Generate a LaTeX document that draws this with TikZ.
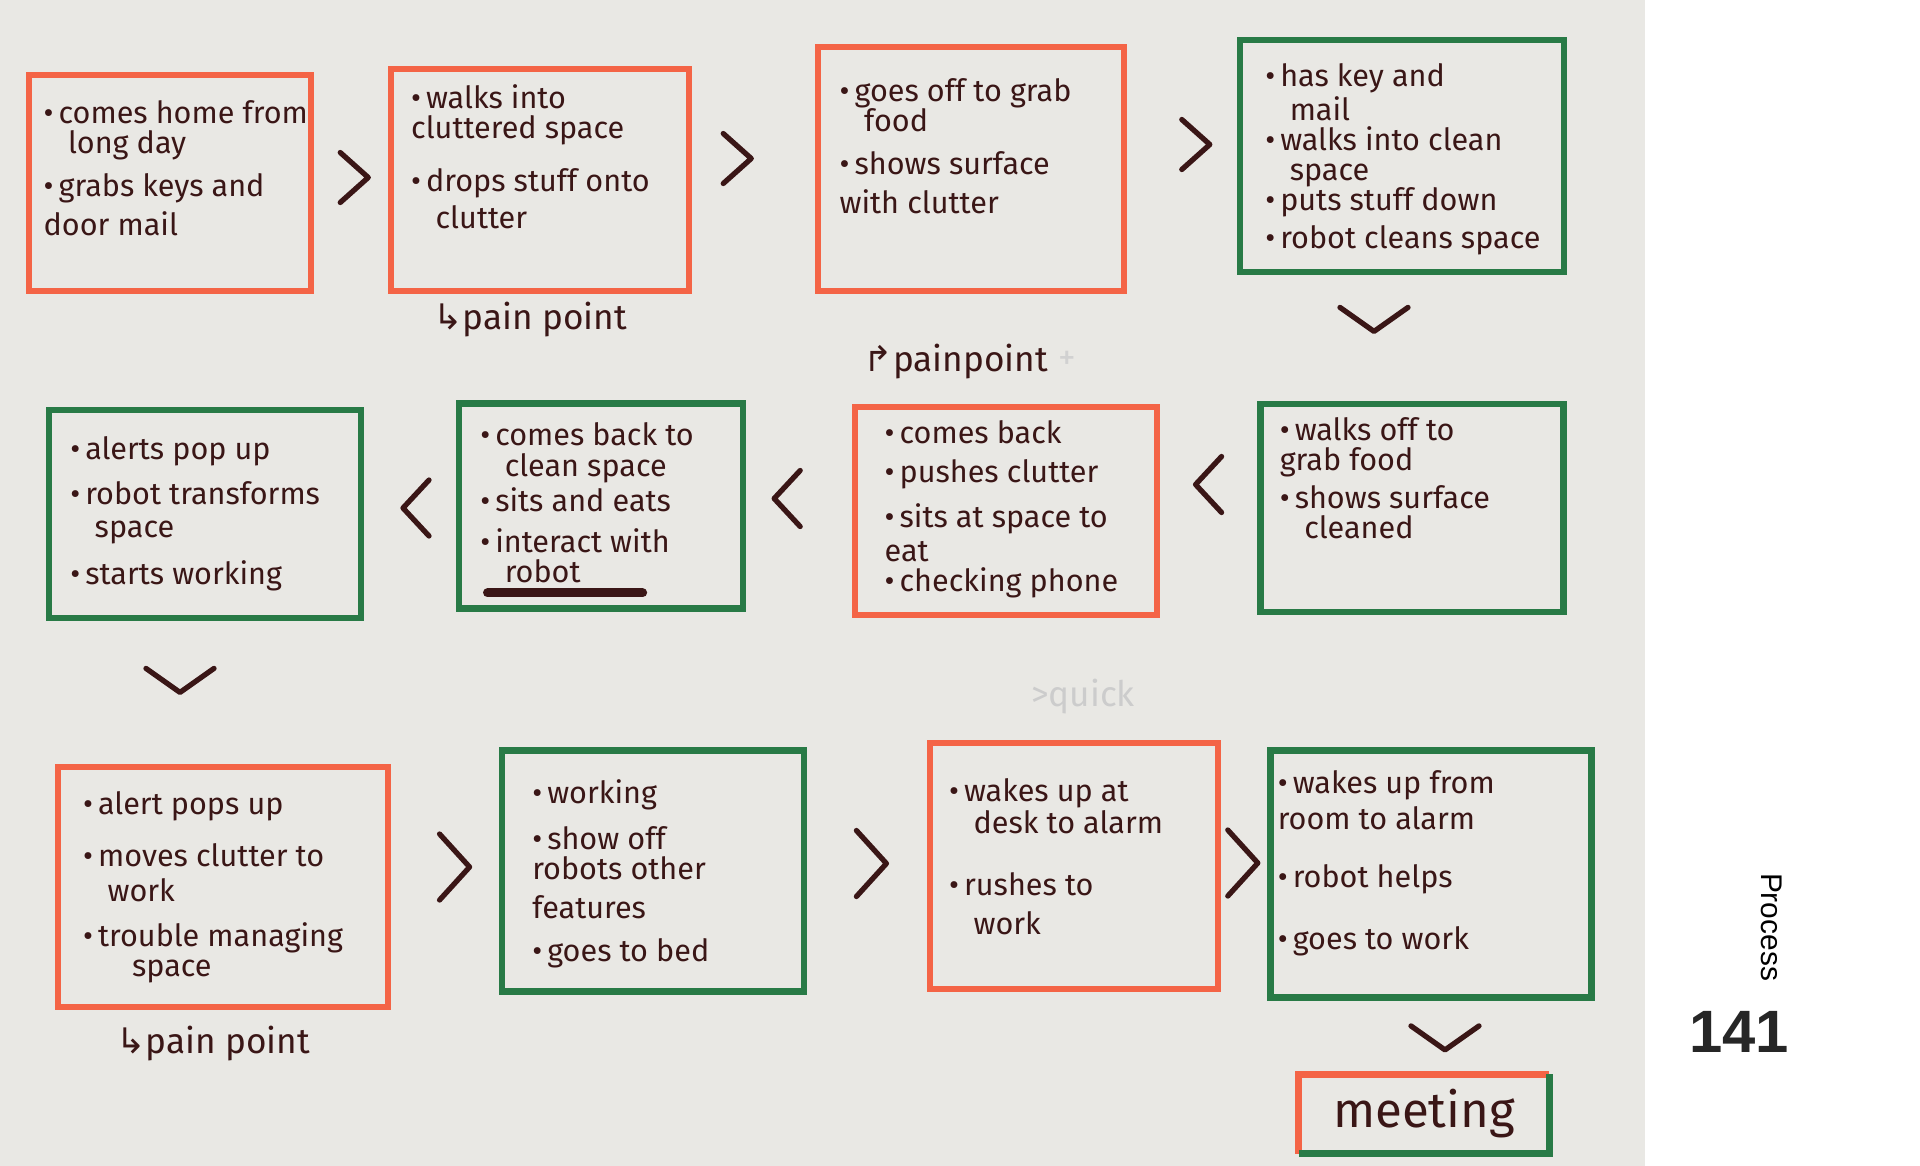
\documentclass[tikz,border=0pt]{standalone}
\usepackage{fontspec}
\setmainfont{Fira Sans}
\newfontfamily\handfont{Fira Sans}
\newfontfamily\symfont{DejaVu Sans}
\newfontfamily\pagefont{Liberation Sans}
\usetikzlibrary{calc,positioning}
\definecolor{paper}{RGB}{233,232,228}
\definecolor{ink}{RGB}{58,22,22}
\definecolor{painred}{RGB}{244,100,70}
\definecolor{calmgreen}{RGB}{40,122,70}
\newcommand{\itm}{\textbullet\,}
\newcommand{\ind}{\hspace*{0.8em}}

\begin{document}
\begin{tikzpicture}[x=0.01cm, y=-0.01cm,
  sz/.style 2 args={minimum width=#1, minimum height=#2},
  obox/.style={draw=painred, line width=1.7pt, inner sep=0pt},
  gbox/.style={draw=calmgreen, line width=1.9pt, inner sep=0pt},
  txt/.style={anchor=north west, inner sep=0pt, align=left, text=ink,
    font=\handfont\fontsize{8.7}{8.6}\selectfont},
  note/.style={inner sep=0pt, text=ink, font=\handfont\fontsize{10}{10}\selectfont},
  chev/.style={draw=ink, line width=1.5pt, line cap=round, line join=round}]
  %% ── Page: paper and white margin ──────────────────────────
  \fill[white] (0,0) rectangle (1920,1166);
  \fill[paper] (0,0) rectangle (1645,1166);

  %% ── Row 1: coming home ────────────────────────────────────
  \node[obox, sz={2.82cm}{2.15cm}] (b1) at (170,183) {};
  \node[obox, sz={2.97cm}{2.22cm}] (b2) at (540,180) {};
  \node[obox, sz={3.06cm}{2.44cm}] (b3) at (971,169) {};
  \node[gbox, sz={3.24cm}{2.32cm}] (b4) at (1402,156) {};
  \node[txt] (t1) at ([shift={(17,27)}]b1.north west)
    {\itm comes home from\\ \ind long day\\[3.6pt] \itm grabs keys and\\[1.5pt] door mail};
  \node[txt] (t2) at ([shift={(22,18)}]b2.north west)
    {\itm walks into\\ cluttered space\\[6.4pt] \itm drops stuff onto\\[2pt] \ind clutter};
  \node[txt] (t3) at ([shift={(24,34)}]b3.north west)
    {\itm goes off to grab\\ \ind food\\[3.6pt] \itm shows surface\\[2.5pt] with clutter};
  \node[txt] (t4) at ([shift={(28,26)}]b4.north west)
    {\itm has key and\\ \ind mail\\ \itm walks into clean\\ \ind space\\ \itm puts stuff down\\[2pt] \itm robot cleans space};

  %% ── Row 2: eating ─────────────────────────────────────────
  \node[gbox, sz={3.12cm}{2.08cm}] (b5) at (205,514) {};
  \node[gbox, sz={2.84cm}{2.05cm}] (b6) at (601,506) {};
  \node[obox, sz={3.02cm}{2.08cm}] (b7) at (1006,511) {};
  \node[gbox, sz={3.03cm}{2.08cm}] (b8) at (1412,508) {};
  \node[txt] (t5) at ([shift={(24,29)}]b5.north west)
    {\itm alerts pop up\\[4.3pt] \itm robot transforms\\[0.8pt] \ind space\\[3.6pt] \itm starts working};
  \node[txt] (t6) at ([shift={(24,22)}]b6.north west)
    {\itm comes back to\\ \ind clean space\\[0.4pt] \itm sits and eats\\[3pt] \itm interact with\\ \ind robot};
  \node[txt] (t7) at ([shift={(32,16)}]b7.north west)
    {\itm comes back\\[2.5pt] \itm pushes clutter\\[3pt] \itm sits at space to\\[1.2pt] eat\\ \itm checking phone};
  \node[txt] (t8) at ([shift={(22,16)}]b8.north west)
    {\itm walks off to\\ grab food\\[2.2pt] \itm shows surface\\ \ind cleaned};
  %% crossed-out word under "robot"
  \draw[ink, line width=2.6pt, line cap=round]
    ($(b6.south west)+(32,-19)$) -- +(155,0);

  %% ── Row 3: working and next day ───────────────────────────
  \node[obox, sz={3.29cm}{2.39cm}] (b9) at (223,887) {};
  \node[gbox, sz={3.02cm}{2.41cm}] (b10) at (653,871) {};
  \node[obox, sz={2.87cm}{2.46cm}] (b11) at (1074,866) {};
  \node[gbox, sz={3.21cm}{2.47cm}] (b12) at (1431,874) {};
  \node[txt] (t9) at ([shift={(27,26)}]b9.north west)
    {\itm alert pops up\\[6.4pt] \itm moves clutter to\\[1.2pt] \ind work\\[4.3pt] \itm trouble managing\\ \ind\ind space};
  \node[txt] (t10) at ([shift={(33,32)}]b10.north west)
    {\itm working\\[4.3pt] \itm show off\\ robots other\\[2.5pt] features\\[3.6pt] \itm goes to bed};
  \node[txt] (t11) at ([shift={(21,38)}]b11.north west)
    {\itm wakes up at\\[0.4pt] \ind desk to alarm\\[9.2pt] \itm rushes to\\[2.5pt] \ind work};
  \node[txt] (t12) at ([shift={(10,23)}]b12.north west)
    {\itm wakes up from\\[1.5pt] room to alarm\\[8.1pt] \itm robot helps\\[8.8pt] \itm goes to work};

  %% meeting: red top/left, green bottom/right
  \node[inner sep=0pt, sz={2.49cm}{0.78cm}, text=ink,
    font=\handfont\fontsize{14}{14}\selectfont] (m) at (1424,1114) {meeting};
  \draw[painred, line width=1.9pt] (m.south west) -- (m.north west) -- (m.north east);
  \draw[calmgreen, line width=1.9pt] (m.north east) -- (m.south east) -- (m.south west);

  %% ── Chevrons between steps ────────────────────────────────
  %% right-pointing: from/to/dx/dy/half-width/half-height
  \foreach \a/\b/\dx/\dy/\w/\h in {b1/b2/3/-4/14/25, b2/b3/-16/-16/14/25,
      b3/b4/14/-18/14/25, b9/b10/10/-12/15/33, b10/b11/4/-5/15/33,
      b11/b12/-1/-7/15/33}{
    \draw[chev] ($(\a.east)!0.5!(\b.west)+(\dx,\dy)$)
      ++(-\w,-\h) -- ++(2*\w,\h) -- ++(-2*\w,\h);
  }
  %% left-pointing (row 2 runs right to left)
  \foreach \a/\b/\dx/\dy in {b8/b7/0/-25, b7/b6/-12/-10, b6/b5/6/-2}{
    \draw[chev] ($(\a.west)!0.5!(\b.east)+(\dx,\dy)$)
      ++(13,-28) -- ++(-26,28) -- ++(26,28);
  }
  %% down-pointing, row to row
  \foreach \a/\dx/\dy in {b4/-28/44, b5/-25/59, b12/14/37}{
    \draw[chev] ($(\a.south)+(\dx,\dy)$)
      ++(-34,-12) -- ++(34,24) -- ++(34,-24);
  }

  %% ── Notes ─────────────────────────────────────────────────
  \node[note] (p1) at ([shift={(-10,25)}]b2.south) {{\symfont↳}pain point};
  \node[note] (p2) at ([shift={(-50,-42)}]b7.north) {{\symfont↱}painpoint};
  \node[note, text=black!18] (p2plus) at ([shift={(18,-2)}]p2.east) {+};
  \node[note] (p3) at ([shift={(-10,34)}]b9.south) {{\symfont↳}pain point};
  \node[note, text=black!20] (q) at ([shift={(9,-43)}]b11.north) {>quick};

  %% ── Page margin text ──────────────────────────────────────
  \node[rotate=-90, font=\pagefont\fontsize{8.5}{8.5}\selectfont] (proc) at (1772,927) {Process};
  \node[font=\pagefont\bfseries\fontsize{17}{17}\selectfont, text=black!85] (pg) at (1739,1032) {141};
\end{tikzpicture}
\end{document}
